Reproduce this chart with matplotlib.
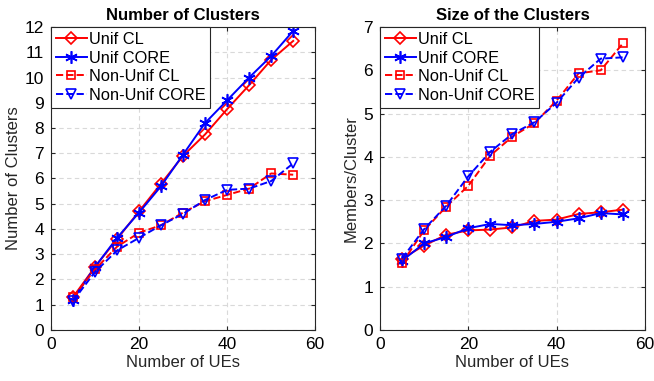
import numpy as np
import matplotlib.pyplot as plt

plt.rcParams['font.family'] = ['Liberation Sans', 'DejaVu Sans']

ues = [5, 10, 15, 20, 25, 30, 35, 40, 45, 50, 55]

# number of clusters
n_unif_cl = [1.3, 2.5, 3.6, 4.7, 5.8, 6.9, 7.75, 8.75, 9.7, 10.7, 11.45]
n_unif_core = [1.2, 2.5, 3.65, 4.65, 5.7, 6.95, 8.2, 9.1, 10.0, 10.85, 11.85]
n_nonunif_cl = [1.3, 2.4, 3.3, 3.85, 4.15, 4.65, 5.1, 5.35, 5.6, 6.2, 6.15]
n_nonunif_core = [1.15, 2.3, 3.15, 3.65, 4.15, 4.6, 5.15, 5.55, 5.6, 5.9, 6.6]

# members per cluster
s_unif_cl = [1.65, 1.95, 2.2, 2.3, 2.32, 2.37, 2.52, 2.55, 2.68, 2.72, 2.78]
s_unif_core = [1.6, 2.0, 2.15, 2.35, 2.45, 2.42, 2.45, 2.5, 2.58, 2.7, 2.67]
s_nonunif_cl = [1.55, 2.3, 2.85, 3.33, 4.03, 4.47, 4.78, 5.3, 5.93, 6.0, 6.62]
s_nonunif_core = [1.65, 2.33, 2.87, 3.55, 4.12, 4.53, 4.8, 5.25, 5.83, 6.27, 6.3]

labels = ['Unif CL', 'Unif CORE', 'Non-Unif CL', 'Non-Unif CORE']
styles = [
    dict(color='red', ls='-', marker='D', ms=6),
    dict(color='blue', ls='-', marker=(6, 2, 0), ms=9),
    dict(color='red', ls='--', marker='s', ms=5.5),
    dict(color='blue', ls='--', marker='v', ms=7),
]

fig = plt.figure(figsize=(6.54, 3.81), dpi=100)
ax1 = fig.add_axes([0.078, 0.134, 0.404, 0.795])
ax2 = fig.add_axes([0.581, 0.134, 0.405, 0.795])

panels = [
    (ax1, [n_unif_cl, n_unif_core, n_nonunif_cl, n_nonunif_core],
     'Number of Clusters', 'Number of Clusters', 12),
    (ax2, [s_unif_cl, s_unif_core, s_nonunif_cl, s_nonunif_core],
     'Size of the Clusters', 'Members/Cluster', 7),
]

for ax, series, title, ylabel, ymax in panels:
    for vals, lab, st in zip(series, labels, styles):
        ax.plot(ues, vals, label=lab, color=st['color'], ls=st['ls'],
                marker=st['marker'], ms=st['ms'], mfc='none',
                mec=st['color'], lw=1.4, mew=1.2)
    ax.set_xlim(0, 60)
    ax.set_ylim(0, ymax)
    ax.set_xticks([0, 20, 40, 60])
    ax.set_yticks(np.arange(0, ymax + 1, 1))
    ax.grid(True, ls=(0, (4, 3)), color='#d9d9d9', lw=0.8)
    ax.set_axisbelow(True)
    ax.tick_params(direction='in', top=True, right=True, labelsize=12.5,
                   length=3, color='#262626', pad=5)
    for sp in ax.spines.values():
        sp.set_color('#262626')
        sp.set_linewidth(0.8)
    ax.set_title(title, fontsize=12, fontweight='bold', pad=5)
    ax.set_xlabel('Number of UEs', fontsize=12, color='#262626', labelpad=2)
    ax.set_ylabel(ylabel, fontsize=12, color='#262626', labelpad=3)
    leg = ax.legend(loc='upper left', fontsize=11.8, fancybox=False,
                    framealpha=1, edgecolor='#262626', borderaxespad=0.0,
                    handlelength=1.9, borderpad=0.3, labelspacing=0.22,
                    handletextpad=0.1)
    leg.get_frame().set_linewidth(0.8)

fig.savefig('out.png', dpi=100)
